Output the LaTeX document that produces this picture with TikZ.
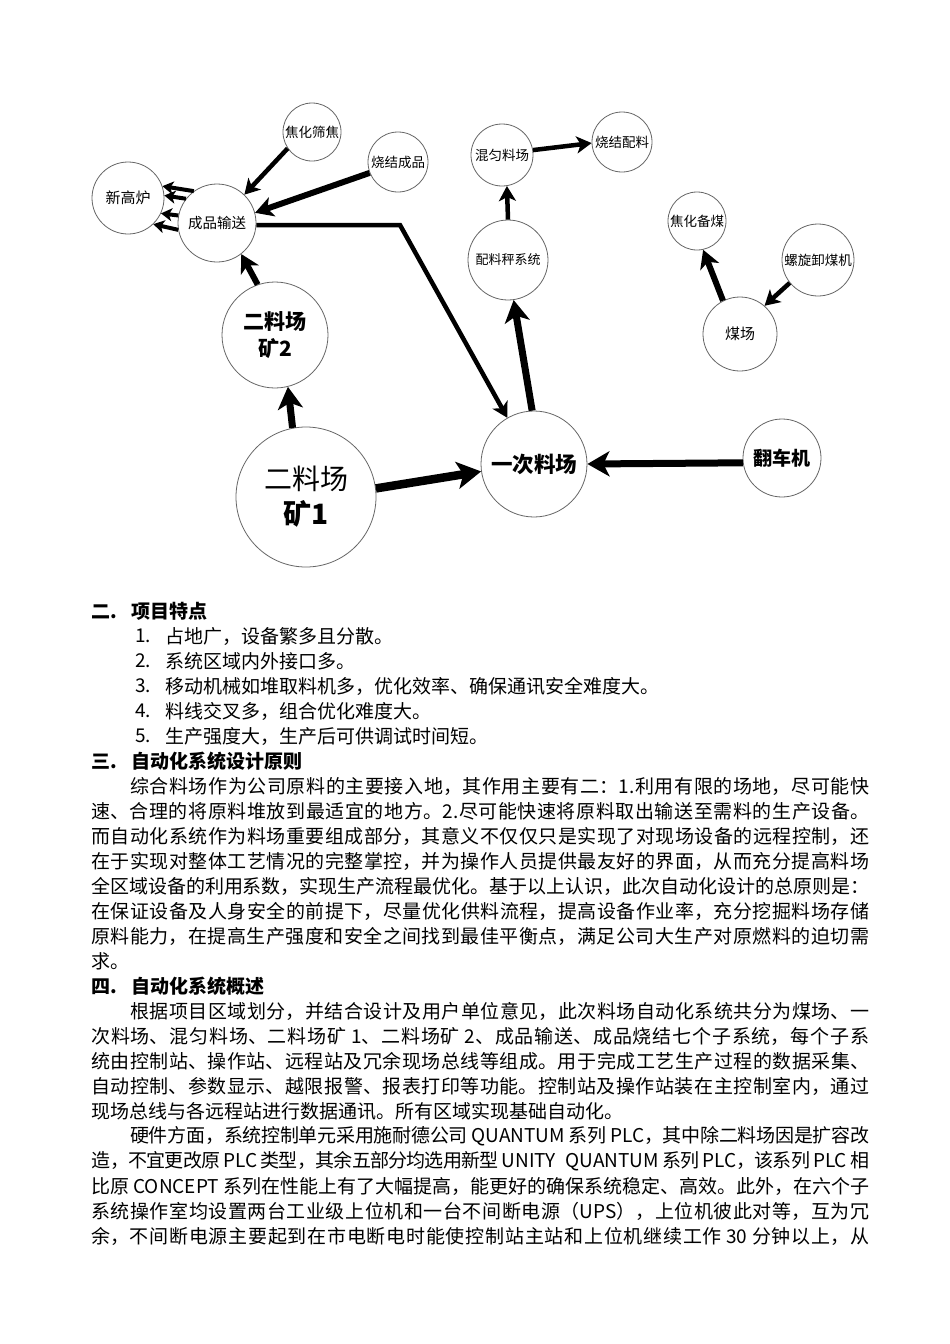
\documentclass[tikz,border=0pt]{standalone}
\usepackage{fontspec}
\setmainfont{Noto Sans CJK SC}
\usetikzlibrary{arrows.meta}
\newcommand\justline[2]{\parbox{#1}{\parindent=0pt\parfillskip=0pt\XeTeXlinebreaklocale "zh"\XeTeXlinebreakskip=0pt plus 4pt minus 1pt\relax #2}}
\tikzset{
  bub/.style={circle,draw=black!60,line width=0.8pt,inner sep=0pt,fill=white,align=center,minimum size=#1},
  arA/.style={line width=4pt,-{Stealth[length=11pt,width=13pt,inset=3pt]}},
  arB/.style={line width=4.5pt,-{Stealth[length=15pt,width=17pt,inset=4pt]}},
  arC/.style={line width=6pt,-{Stealth[length=18pt,width=20pt,inset=5pt]}},
  arD/.style={line width=7pt,-{Stealth[length=22pt,width=25pt,inset=6pt]}},
  arE/.style={line width=8.5pt,-{Stealth[length=24pt,width=27pt,inset=6pt]}},
  txt/.style={anchor=west,inner sep=0pt,font=\fontsize{19}{25}\selectfont},
  hd/.style={anchor=west,inner sep=0pt,font=\fontsize{19}{25}\selectfont\bfseries},
}
\begin{document}
\begin{tikzpicture}[x=1pt,y=-1pt]
\useasboundingbox[fill=white] (0,0) rectangle (950,1344);
% ---------- diagram nodes ----------
\node[bub=72pt,font=\fontsize{15}{18}\selectfont] (xg) at (128,198) {新高炉};
\node[bub=78pt,font=\fontsize{14.5}{18}\selectfont] (cp) at (217,223) {成品输送};
\node[bub=58pt,font=\fontsize{13.5}{16}\selectfont] (jh) at (312,132) {焦化筛焦};
\node[bub=60pt,font=\fontsize{13.5}{16}\selectfont] (sj) at (398,162) {烧结成品};
\node[bub=106pt,font=\fontsize{21}{27}\selectfont\bfseries] (k2) at (275,335) {二料场\\矿2};
\node[bub=140pt,font=\fontsize{28}{35}\selectfont] (k1) at (306,497) {二料场\\\textbf{矿1}};
\node[bub=106pt,font=\fontsize{21.5}{26}\selectfont\bfseries] (yc) at (534,464) {一次料场};
\node[bub=78pt,font=\fontsize{19}{22}\selectfont\bfseries] (fc) at (782,458) {翻车机};
\node[bub=62pt,font=\fontsize{13.5}{16}\selectfont] (hy) at (502,155) {混匀料场};
\node[bub=60pt,font=\fontsize{13.5}{16}\selectfont] (sp) at (622,142) {烧结配料};
\node[bub=80pt,font=\fontsize{13}{16}\selectfont] (pl) at (508,260) {配料秤系统};
\node[bub=58pt,font=\fontsize{13.5}{16}\selectfont] (jb) at (697,221) {焦化备煤};
\node[bub=72pt,font=\fontsize{13.5}{16}\selectfont] (lx) at (818,260) {螺旋卸煤机};
\node[bub=74pt,font=\fontsize{15}{18}\selectfont] (mc) at (740,334) {煤场};
\coordinate (bend) at (400,225);
% ---------- connectors ----------
\draw[arB] (jh.214) -- (cp.46);
\draw[arC] (sj.201) -- (cp.15);
\draw[arA] (cp.126) -- (xg.19);
\draw[arA] (cp.142) -- (xg.4);
\draw[arA] (cp.169) -- (xg.-25);
\draw[arA] (cp.190) -- (xg.-46);
\draw[arB] (cp.-3) -- (bend) -- (yc.120);
\draw[arC] (k2.109) -- (cp.-52);
\draw[arD] (k1.101) -- (k2.-76);
\draw[arE] (k1.7) -- (yc.188);
\draw[arD] (yc.92) -- (pl.-82);
\draw[arD] (fc.187) -- (yc.0);
\draw[arB] (pl.90) -- (hy.-81);
\draw[arB] (hy.9) -- (sp.182);
\draw[arC] (mc.117) -- (jb.-78);
\draw[arB] (lx.219) -- (mc.49);
% ---------- text ----------
\node[hd] (h2) at (91,611) {\makebox[40pt][l]{二.}项目特点};
\node[txt] (n1) at (135,636) {1.};
\node[txt] (i1) at (165,636) {占地广，设备繁多且分散。};
\node[txt] (n2) at (135,661) {2.};
\node[txt] (i2) at (165,661) {系统区域内外接口多。};
\node[txt] (n3) at (135,686) {3.};
\node[txt] (i3) at (165,686) {移动机械如堆取料机多，优化效率、确保通讯安全难度大。};
\node[txt] (n4) at (135,711) {4.};
\node[txt] (i4) at (165,711) {料线交叉多，组合优化难度大。};
\node[txt] (n5) at (135,736) {5.};
\node[txt] (i5) at (165,736) {生产强度大，生产后可供调试时间短。};
\node[hd] (h3) at (91,761) {\makebox[40pt][l]{三.}自动化系统设计原则};
\node[txt] (p1) at (130,786) {\justline{739pt}{综合料场作为公司原料的主要接入地，其作用主要有二：1.利用有限的场地，尽可能快}};
\node[txt] (p2) at (91,811) {\justline{778pt}{速、合理的将原料堆放到最适宜的地方。2.尽可能快速将原料取出输送至需料的生产设备。}};
\node[txt] (p3) at (91,836) {\justline{778pt}{而自动化系统作为料场重要组成部分，其意义不仅仅只是实现了对现场设备的远程控制，还}};
\node[txt] (p4) at (91,861) {\justline{778pt}{在于实现对整体工艺情况的完整掌控，并为操作人员提供最友好的界面，从而充分提高料场}};
\node[txt] (p5) at (91,886) {\justline{778pt}{全区域设备的利用系数，实现生产流程最优化。基于以上认识，此次自动化设计的总原则是：}};
\node[txt] (p6) at (91,911) {\justline{778pt}{在保证设备及人身安全的前提下，尽量优化供料流程，提高设备作业率，充分挖掘料场存储}};
\node[txt] (p7) at (91,936) {\justline{778pt}{原料能力，在提高生产强度和安全之间找到最佳平衡点，满足公司大生产对原燃料的迫切需}};
\node[txt] (p8) at (91,961) {求。};
\node[hd] (h4) at (91,986) {\makebox[40pt][l]{四.}自动化系统概述};
\node[txt] (q1) at (130,1011) {\justline{739pt}{根据项目区域划分，并结合设计及用户单位意见，此次料场自动化系统共分为煤场、一}};
\node[txt] (q2) at (91,1036) {\justline{778pt}{次料场、混匀料场、二料场矿 1、二料场矿 2、成品输送、成品烧结七个子系统，每个子系}};
\node[txt] (q3) at (91,1061) {\justline{778pt}{统由控制站、操作站、远程站及冗余现场总线等组成。用于完成工艺生产过程的数据采集、}};
\node[txt] (q4) at (91,1086) {\justline{778pt}{自动控制、参数显示、越限报警、报表打印等功能。控制站及操作站装在主控制室内，通过}};
\node[txt] (q5) at (91,1111) {现场总线与各远程站进行数据通讯。所有区域实现基础自动化。};
\node[txt] (q6) at (130,1136) {\justline{739pt}{硬件方面，系统控制单元采用施耐德公司 QUANTUM 系列 PLC，其中除二料场因是扩容改}};
\node[txt] (q7) at (91,1161) {\justline{778pt}{造，不宜更改原 PLC 类型，其余五部分均选用新型 UNITY\hspace{10pt}QUANTUM 系列 PLC，该系列 PLC 相}};
\node[txt] (q8) at (91,1186) {\justline{778pt}{比原 CONCEPT 系列在性能上有了大幅提高，能更好的确保系统稳定、高效。此外，在六个子}};
\node[txt] (q9) at (91,1211) {\justline{778pt}{系统操作室均设置两台工业级上位机和一台不间断电源（UPS），上位机彼此对等，互为冗}};
\node[txt] (q10) at (91,1236) {\justline{778pt}{余，不间断电源主要起到在市电断电时能使控制站主站和上位机继续工作 30 分钟以上，从}};
\end{tikzpicture}
\end{document}
